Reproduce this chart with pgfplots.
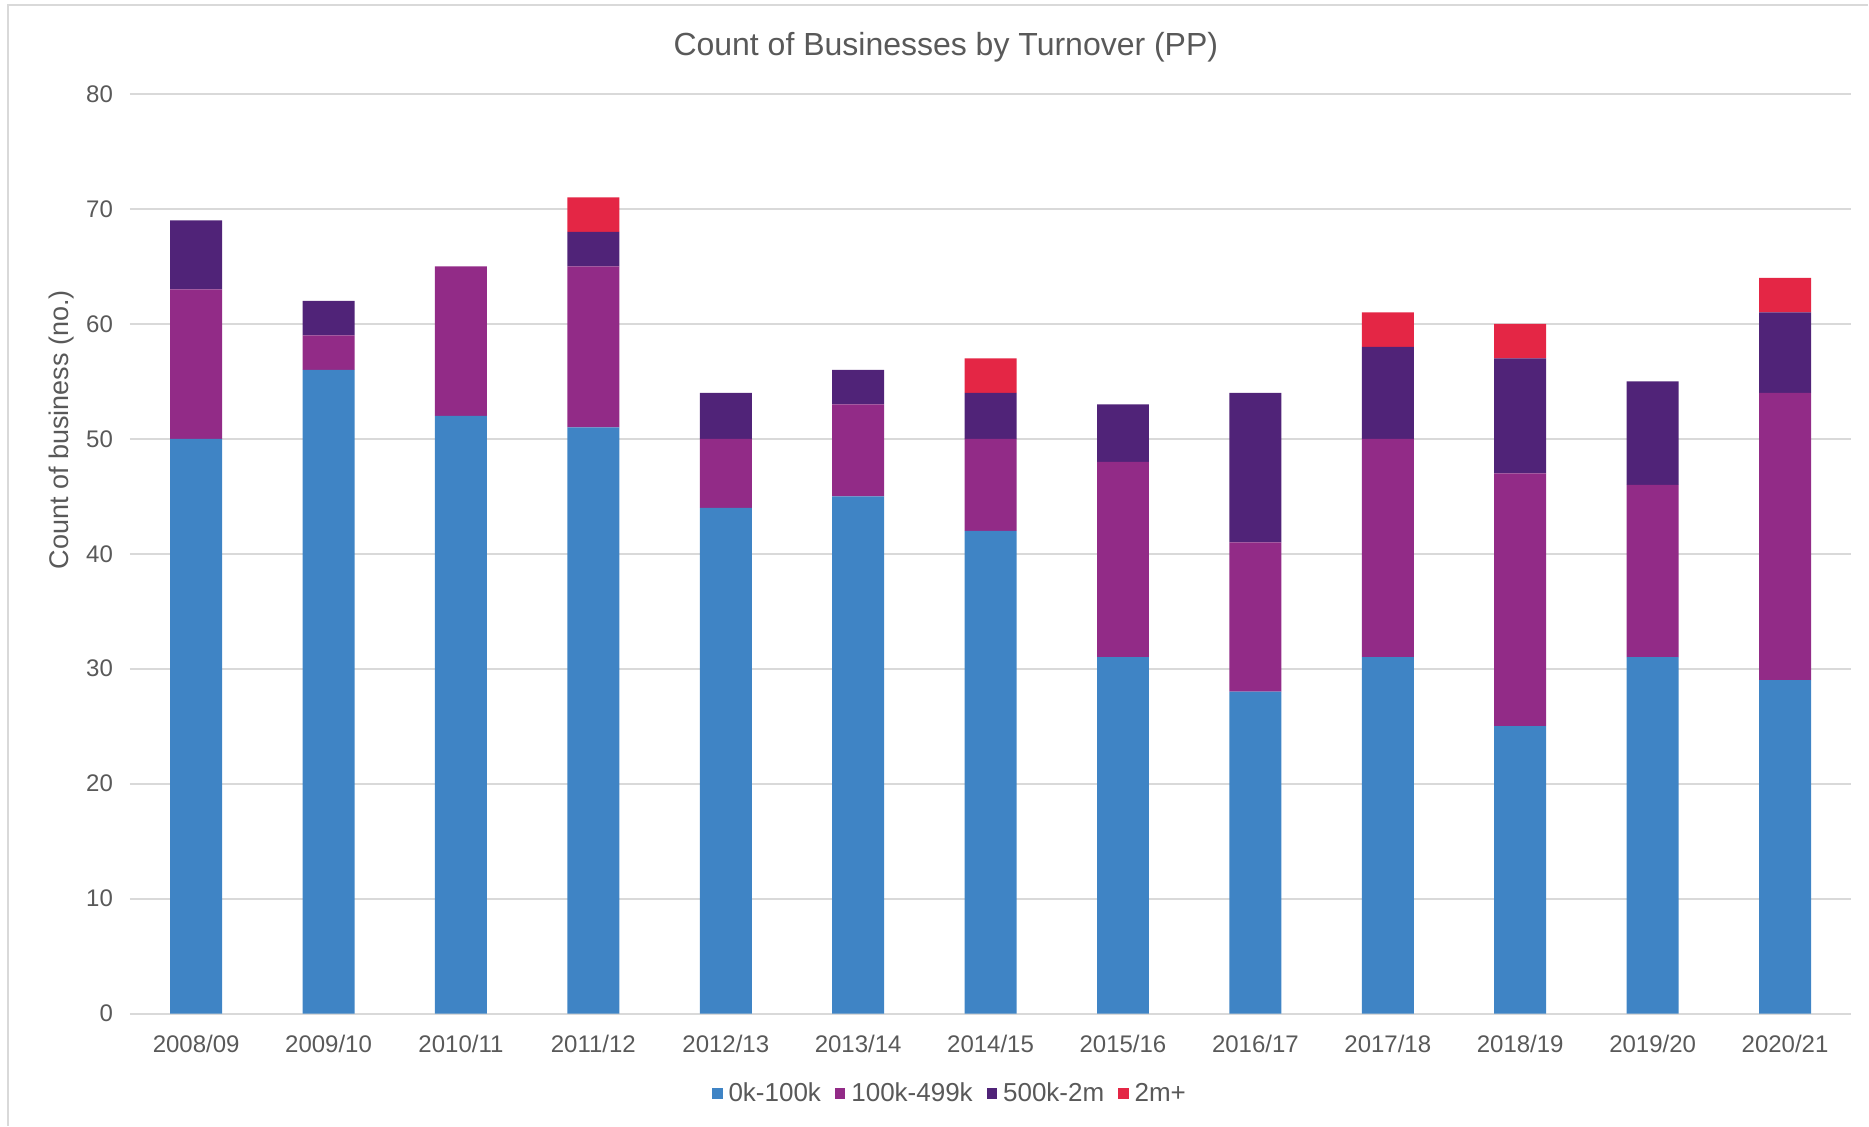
\documentclass[border=0pt]{standalone}
\usepackage{fontspec}
\setmainfont{Liberation Sans}
\usepackage{pgfplots}
\pgfplotsset{compat=1.18}
\usepackage{pgfplotstable}
\definecolor{cA}{HTML}{3F84C5}
\definecolor{cB}{HTML}{922B87}
\definecolor{cC}{HTML}{502378}
\definecolor{cD}{HTML}{E42645}
\definecolor{txt}{HTML}{595959}
\definecolor{grd}{HTML}{D9D9D9}
\pgfplotstableread{
x a b c d
0 50 13 6 0
1 56 3 3 0
2 52 13 0 0
3 51 14 3 3
4 44 6 4 0
5 45 8 3 0
6 42 8 4 3
7 31 17 5 0
8 28 13 13 0
9 31 19 8 3
10 25 22 10 3
11 31 15 9 0
12 29 25 7 3
}\data
\begin{document}
\begin{tikzpicture}
\path (0,0) rectangle (934.5pt,563pt);
\draw[grd, line width=0.8pt] (4pt,0) -- (4pt,560.5pt) -- (934.5pt,560.5pt);
\begin{axis}[
  at={(65pt,56pt)}, anchor=south west,
  scale only axis, width=861pt, height=460pt,
  ybar stacked, bar width=26pt,
  xmin=-0.5, xmax=12.5, ymin=0, ymax=80,
  xtick=data,
  xticklabels={2008/09,2009/10,2010/11,2011/12,2012/13,2013/14,2014/15,2015/16,2016/17,2017/18,2018/19,2019/20,2020/21},
  ytick={0,10,...,80},
  /pgf/number format/assume math mode=true,
  major tick length=0pt,
  axis line style={draw=none},
  ymajorgrids, grid style={grd, line width=1pt},
  tick label style={font=\fontsize{12}{14}\selectfont, text=txt},
  xticklabel style={yshift=-7pt},
  yticklabel style={xshift=-5pt},
  ylabel={Count of business (no.)},
  every axis y label/.style={at={(axis description cs:-0.0395,0.635)}, rotate=90, anchor=center, font=\fontsize{13.5}{15}\selectfont, text=txt},
  title={Count of Businesses by Turnover (PP)},
  every axis title/.style={at={(axis description cs:0.474,1.051)}, anchor=center, font=\fontsize{16}{19}\selectfont, text=txt},
  legend columns=4,
  legend style={at={(axis description cs:0.477,-0.087)}, anchor=center, draw=none,
    font=\fontsize{13}{15}\selectfont, text=txt,
    /tikz/every even column/.append style={column sep=5pt},
    /tikz/every odd column/.append style={column sep=1pt}},
  legend image code/.code={\fill[#1] (0pt,-2.7pt) rectangle (5.2pt,2.7pt);},
]
\addplot[fill=cA, draw=none] table[x=x,y=a]{\data};
\addplot[fill=cB, draw=none] table[x=x,y=b]{\data};
\addplot[fill=cC, draw=none] table[x=x,y=c]{\data};
\addplot[fill=cD, draw=none] table[x=x,y=d]{\data};
\legend{0k-100k,100k-499k,500k-2m,2m+}
\end{axis}
\end{tikzpicture}
\end{document}
